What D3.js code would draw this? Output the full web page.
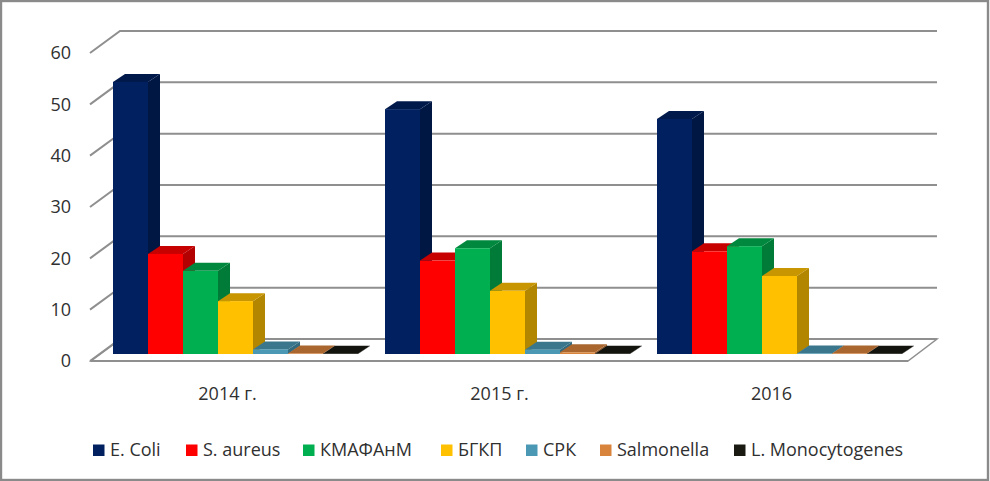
<!DOCTYPE html>
<html><head><meta charset="utf-8">
<script src="https://cdn.jsdelivr.net/npm/d3@7/dist/d3.min.js"></script>
<style>
html,body{margin:0;padding:0;background:#fff}
svg{display:block}
text{font-family:"Open Sans",sans-serif;fill:#303030}
</style></head><body>
<svg id="c" width="990" height="481"></svg>
<script>
const categories = ["2014 г.", "2015 г.", "2016"];
const seriesNames = ["E. Coli", "S. aureus", "КМАФАнМ", "БГКП", "СРК", "Salmonella", "L. Monocytogenes"];
const eColi = [53, 47.7, 45.8];
const sAureus = [19.5, 18.2, 20];
const kmafanm = [16.2, 20.6, 21];
const bgkp = [10.3, 12.3, 15.2];
const srk = [0.9, 0.85, 0.1];
const salmonella = [0.1, 0.33, 0.1];
const lMono = [0.05, 0.05, 0.05];
const yTicks = [0, 10, 20, 30, 40, 50, 60];
const seriesValues = [eColi, sAureus, kmafanm, bgkp, srk, salmonella, lMono];
const faceColors = ["#002060", "#FF0000", "#00B050", "#FFC000", "#4A98B4", "#D9843C", "#1A1A12"];

const svg = d3.select("#c");
// frame
svg.append("rect").attr("x",1).attr("y",1).attr("width",987).attr("height",479)
   .attr("fill","#fff").attr("stroke","#8a8a8a").attr("stroke-width",2.4);

// Floor front scale; bars sit part-way back
const wallDx = 30, wallDy = 22, barDx = 12, barDy = 8;
const y = d3.scaleLinear().domain([0,60]).range([361,53]);
const floorL = 91, floorR = 908;
const x0 = d3.scaleBand().domain(categories).range([99.5,915.5]).paddingInner(27/272).paddingOuter(13.5/272);
const x1 = d3.scaleBand().domain(seriesNames).range([0,x0.bandwidth()]);
const barBase = y(0) - 7;
const h = v => y(0) - y(v);

const grid = "#8f8f8f";
// floor
svg.append("path").attr("fill","#fff").attr("stroke",grid).attr("stroke-width",1.5)
  .attr("d",`M${floorL},${y(0)}L${floorL+wallDx},${y(0)-wallDy}L${floorR+wallDx-1},${y(0)-wallDy}L${floorR},${y(0)}Z`);
svg.append("line").attr("x1",floorL).attr("x2",floorR).attr("y1",y(0)).attr("y2",y(0))
  .attr("stroke",grid).attr("stroke-width",2.2);

// gridlines
svg.append("g").selectAll("path").data(yTicks).join("path")
  .attr("fill","none").attr("stroke",grid).attr("stroke-width",2)
  .attr("d",t=>`M${floorL-1},${y(t)}L${floorL+wallDx-1},${y(t)-wallDy}L${floorR+wallDx-1},${y(t)-wallDy}`);

// tick labels
svg.append("g").selectAll("text").data(yTicks).join("text")
  .attr("x",71).attr("y",t=>y(t)).attr("dy","0.36em").attr("text-anchor","end")
  .attr("font-size",18).text(t=>t);

// bars
const bars = [];
categories.forEach((c,ci)=>seriesNames.forEach((s,si)=>bars.push({c,s,si,v:seriesValues[si][ci]})));
const g = svg.append("g").selectAll("g").data(bars).join("g");
const col = (d,k)=>{const c=d3.rgb(faceColors[d.si]);return d3.rgb(c.r*k,c.g*k,c.b*k).formatHex();};
// side
g.append("path").attr("fill",d=>col(d,0.7)).attr("d",d=>{
  const l=x0(d.c)+x1(d.s), r=l+x1.bandwidth(), t=barBase-h(d.v);
  return `M${r},${barBase}L${r+barDx},${barBase-barDy}L${r+barDx},${t-barDy}L${r},${t}Z`;});
// top
g.append("path").attr("fill",d=>col(d,0.78)).attr("d",d=>{
  const l=x0(d.c)+x1(d.s), r=l+x1.bandwidth(), t=barBase-h(d.v);
  return `M${l},${t}L${l+barDx},${t-barDy}L${r+barDx},${t-barDy}L${r},${t}Z`;});
// front
g.append("rect").attr("fill",d=>faceColors[d.si])
  .attr("x",d=>x0(d.c)+x1(d.s)).attr("width",x1.bandwidth())
  .attr("y",d=>barBase-h(d.v)).attr("height",d=>h(d.v));

// category labels
svg.append("g").selectAll("text").data(categories).join("text")
  .attr("x",c=>x0(c)+x0.bandwidth()/2-8).attr("y",394).attr("dy","0.36em")
  .attr("text-anchor","middle").attr("font-size",18).text(c=>c);

// legend
const legendX = [93,186,303,441,526,600,734];
const lg = svg.append("g").selectAll("g").data(seriesNames).join("g")
  .attr("transform",(d,i)=>`translate(${legendX[i]},450)`);
lg.append("rect").attr("x",0).attr("y",-5.5).attr("width",11.5).attr("height",11.5)
  .attr("fill",(d,i)=>faceColors[i]);
lg.append("text").attr("x",17).attr("dy","0.36em").attr("font-size",18).text(d=>d);
</script></body></html>
